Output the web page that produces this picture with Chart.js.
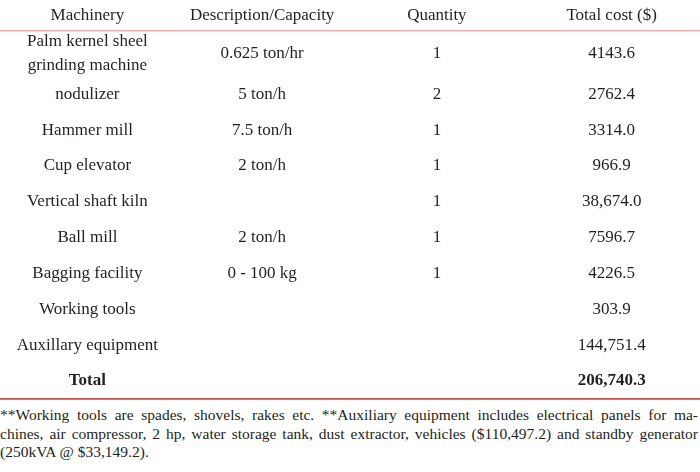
<!DOCTYPE html>
<html lang="en">
<head>
  <meta charset="UTF-8" />
  <title>Machinery cost table</title>
  <script src="https://cdn.jsdelivr.net/npm/chart.js"></script>
  <style>
    body { margin: 0; background: #fff; }
    #wrap { width: 700px; height: 400px; position: relative; }
    #note { width: 698px; font-family: "Liberation Serif", serif; font-size: 15.5px;
            color: #231f20; line-height: 18.5px; margin-top: 6px; }
    #note span { display: block; white-space: nowrap; }
    #note .j { text-align: justify; text-align-last: justify; }
  </style>
</head>
<body>
  <div id="wrap"><canvas id="tbl"></canvas></div>
  <div id="note">
    <span class="j">**Working tools are spades, shovels, rakes etc. **Auxiliary equipment includes electrical panels for ma-</span>
    <span class="j">chines, air compressor, 2 hp, water storage tank, dust extractor, vehicles ($110,497.2) and standby generator</span>
    <span>(250kVA @ $33,149.2).</span>
  </div>

  <script>
    const headers = ['Machinery', 'Description/Capacity', 'Quantity', 'Total cost ($)'];
    const machinery = ['Palm kernel sheel\ngrinding machine', 'nodulizer', 'Hammer mill', 'Cup elevator',
      'Vertical shaft kiln', 'Ball mill', 'Bagging facility', 'Working tools', 'Auxillary equipment', 'Total'];
    const capacity = ['0.625 ton/hr', '5 ton/h', '7.5 ton/h', '2 ton/h', '', '2 ton/h', '0 - 100 kg', '', '', ''];
    const quantity = ['1', '2', '1', '1', '1', '1', '1', '', '', ''];
    const totalCost = ['4143.6', '2762.4', '3314.0', '966.9', '38,674.0', '7596.7', '4226.5', '303.9', '144,751.4', '206,740.3'];
    const boldRows = ['Total'];

    const FONT = '"Liberation Serif", serif';
    const TEXT = '#231f20';

    // row heights grow with the number of text lines in the row
    const rowLines = machinery.map((m, i) =>
      Math.max(m.split('\n').length, capacity[i].split('\n').length));
    const rowSize = rowLines.map(n => 1 + (n - 1) * 0.28);
    const rowCenter = [];
    let acc = 0;
    rowSize.forEach(s => { rowCenter.push(acc + s / 2); acc += s; });
    const totalUnits = acc;

    const cellText = {
      id: 'cellText',
      afterDraw(chart) {
        const { ctx, scales: { x, y } } = chart;
        const cols = [machinery, capacity, quantity, totalCost];
        ctx.save();
        ctx.fillStyle = TEXT;
        ctx.textAlign = 'center';
        ctx.textBaseline = 'middle';
        machinery.forEach((m, r) => {
          const bold = boldRows.includes(m);
          ctx.font = (bold ? 'bold ' : '') + '17px ' + FONT;
          const cy = y.getPixelForValue(rowCenter[r]);
          cols.forEach((col, c) => {
            const lines = col[r].split('\n');
            const cx = x.getPixelForValue(c);
            lines.forEach((t, k) => {
              ctx.fillText(t, cx, cy + (k - (lines.length - 1) / 2) * 24);
            });
          });
        });
        ctx.restore();
      }
    };

    new Chart(document.getElementById('tbl'), {
      type: 'line',
      data: { labels: headers, datasets: [{ data: [], pointRadius: 0 }] },
      options: {
        responsive: true,
        maintainAspectRatio: false,
        animation: false,
        layout: { padding: { left: 0, right: 1, top: 0, bottom: 1 } },
        plugins: { legend: { display: false }, tooltip: { enabled: false } },
        scales: {
          x: {
            type: 'category',
            position: 'top',
            offset: true,
            grid: { display: false, drawTicks: false },
            border: { display: true, color: '#e6b0b0', width: 1.5 },
            ticks: { color: TEXT, font: { family: FONT, size: 17 }, padding: 5, maxRotation: 0, autoSkip: false }
          },
          x2: {
            type: 'category',
            position: 'bottom',
            labels: headers,
            offset: true,
            grid: { display: false, drawTicks: false },
            border: { display: true, color: '#c4504f', width: 1.8 },
            ticks: { display: false }
          },
          y: {
            type: 'linear',
            reverse: true,
            min: 0,
            max: totalUnits,
            display: false
          }
        }
      },
      plugins: [cellText]
    });
  </script>
</body>
</html>
